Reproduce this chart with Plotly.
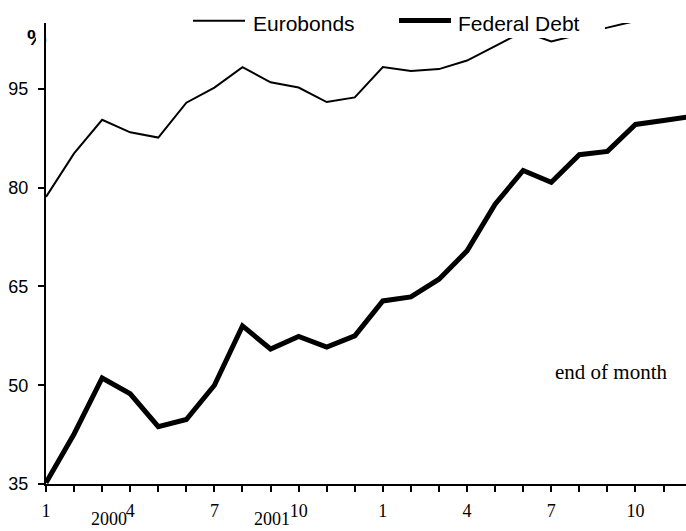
import plotly.graph_objects as go

# Monthly series, January 2000 to December 2001 (end of month values, %)
months = [1, 2, 3, 4, 5, 6, 7, 8, 9, 10, 11, 12,
          1, 2, 3, 4, 5, 6, 7, 8, 9, 10, 11, 12]
eurobonds = [78.6, 85.2, 90.3, 88.4, 87.6, 92.9, 95.2, 98.3, 96.0, 95.2, 93.0, 93.7,
             98.3, 97.7, 98.0, 99.3, 101.5, 103.7, 102.2, 103.3, 104.3, 105.3, 106.0, 106.4]
federal_debt = [35.2, 42.6, 51.1, 48.7, 43.7, 44.8, 50.0, 59.0, 55.5, 57.4, 55.8, 57.5,
                62.8, 63.4, 66.1, 70.4, 77.5, 82.6, 80.8, 85.0, 85.5, 89.6, 90.2, 90.8]
labelled_months = [1, 4, 7, 10]
year_labels = ["2000", "2001"]
y_ticks = [35, 50, 65, 80, 95]

W, H = 686, 531
ML, MR, MT, MB = 46, 0, 23, 47
PW, PH = W - ML - MR, H - MT - MB
X_MAX = PW / 28.07
Y_MIN, Y_MAX = 35, 105

def px_x(px):
    return (px - ML) / PW

def px_y(py):
    return (H - MB - py) / PH

idx = list(range(len(months)))
tick_text = [str(m) if m in labelled_months else "" for m in months]

fig = go.Figure()
fig.add_trace(go.Scatter(x=idx, y=eurobonds, mode="lines", name="Eurobonds",
                         line=dict(color="black", width=2)))
fig.add_trace(go.Scatter(x=idx, y=federal_debt, mode="lines", name="Federal Debt",
                         line=dict(color="black", width=5)))

fig.update_layout(
    width=W, height=H,
    margin=dict(l=ML, r=MR, t=MT, b=MB, pad=0),
    paper_bgcolor="white", plot_bgcolor="white",
    showlegend=False,
    font=dict(family="Liberation Sans, Arial, sans-serif", color="black"),
)
fig.update_xaxes(
    range=[0, X_MAX],
    tickmode="array", tickvals=idx, ticktext=tick_text,
    ticks="outside", ticklen=6, tickwidth=2, tickcolor="black",
    showline=True, linecolor="black", linewidth=2,
    showgrid=False, zeroline=False,
    tickfont=dict(family="Liberation Serif, Times New Roman, serif", size=18),
    ticklabelstandoff=3,
)
fig.update_yaxes(
    range=[Y_MIN, Y_MAX],
    tickmode="array", tickvals=y_ticks,
    ticks="outside", ticklen=6, tickwidth=2, tickcolor="black",
    showline=True, linecolor="black", linewidth=2,
    showgrid=False, zeroline=False,
    tickfont=dict(family="Liberation Sans, Arial, sans-serif", size=18),
    ticklabelstandoff=6,
)

# Legend drawn by hand: white panel over the top of the plot, line samples and labels
shapes = [
    dict(type="rect", xref="paper", yref="paper", layer="above",
         x0=px_x(185), x1=px_x(605), y0=px_y(38), y1=px_y(2),
         fillcolor="white", line=dict(width=0)),
    dict(type="line", xref="paper", yref="paper", layer="above",
         x0=px_x(193), x1=px_x(245), y0=px_y(20.7), y1=px_y(20.7),
         line=dict(color="black", width=2)),
    dict(type="line", xref="paper", yref="paper", layer="above",
         x0=px_x(399), x1=px_x(451), y0=px_y(20.5), y1=px_y(20.5),
         line=dict(color="black", width=5)),
]
fig.update_layout(shapes=shapes)

annotations = [
    dict(text="Eurobonds", xref="paper", yref="paper", x=px_x(251), y=px_y(23),
         xanchor="left", yanchor="middle", showarrow=False,
         font=dict(family="Liberation Sans, Arial, sans-serif", size=21)),
    dict(text="Federal Debt", xref="paper", yref="paper", x=px_x(456), y=px_y(23),
         xanchor="left", yanchor="middle", showarrow=False,
         font=dict(family="Liberation Sans, Arial, sans-serif", size=21)),
    dict(text="end of month", xref="x", yref="y", x=20.14, y=52.0,
         xanchor="center", yanchor="middle", showarrow=False,
         font=dict(family="Liberation Serif, Times New Roman, serif", size=21)),
    dict(text=year_labels[0], xref="x", yref="paper", x=2.26, y=0, yshift=-35,
         xanchor="center", yanchor="middle", showarrow=False,
         font=dict(family="Liberation Serif, Times New Roman, serif", size=18)),
    dict(text=year_labels[1], xref="x", yref="paper", x=8.04, y=0, yshift=-35,
         xanchor="center", yanchor="middle", showarrow=False,
         font=dict(family="Liberation Serif, Times New Roman, serif", size=18)),
    # unit label in the top-left corner
    dict(text="<b>%</b>", xref="paper", yref="paper", x=px_x(25), y=px_y(37),
         xanchor="left", yanchor="middle", showarrow=False,
         font=dict(family="Liberation Sans, Arial, sans-serif", size=22)),
    # white patch over the right part of the unit label
    dict(text="&nbsp;&nbsp;", xref="paper", yref="paper", x=px_x(40.2), y=px_y(37),
         xanchor="center", yanchor="middle", showarrow=False,
         width=8, height=34, borderpad=0, bgcolor="white",
         bordercolor="white", borderwidth=0,
         font=dict(size=20, color="white")),
]
fig.update_layout(annotations=annotations)

fig.write_html("out.html")
